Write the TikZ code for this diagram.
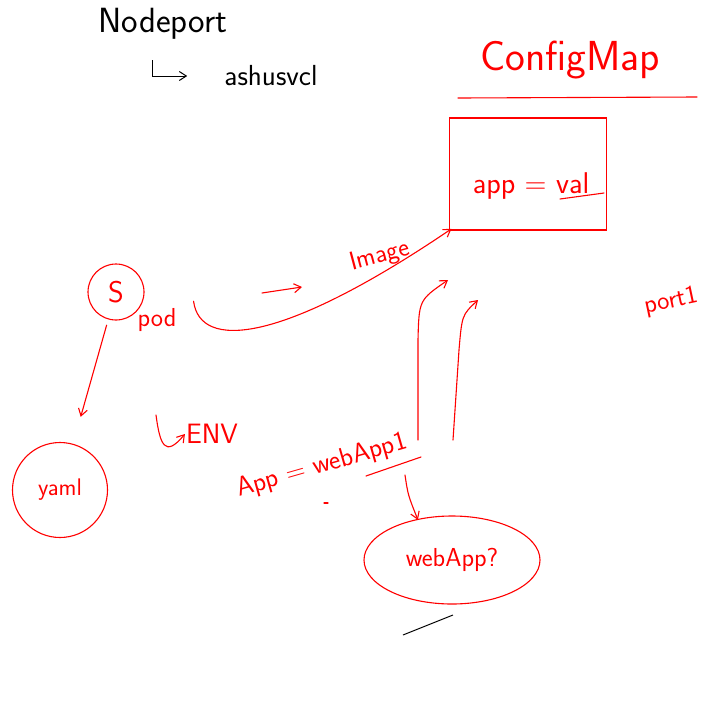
\documentclass[tikz,border=0pt]{standalone}
\usepackage{fontspec}
\usetikzlibrary{positioning,arrows.meta,shapes.geometric}
\begin{document}
\begin{tikzpicture}[x=1pt, y=-1pt,
        ink/.style = {red, line width=1.1pt, line cap=round, line join=round},
        tip/.style = {-{Straight Barb[length=7pt, width=9pt]}},
        note/.style = {red, font=\sffamily\fontsize{26}{30}\selectfont, inner sep=1pt}]
    \fill[white] (0,0) rectangle (716,705);
    \useasboundingbox (0,0) rectangle (716,705);
    % titles
    \begin{scope}[every node/.style = {note}]
        \node[black, font=\sffamily\fontsize{35}{40}\selectfont] (nodeport) at (163,24) {Nodeport};
        \node[black, font=\sffamily\fontsize{29}{34}\selectfont] (svc) at (271,76) {ashusvcl};
        \node[font=\sffamily\fontsize{42}{48}\selectfont] (cfgmap) at (570,60) {ConfigMap};
        \node (pod) at (157,320) [font=\sffamily\fontsize{26}{30}\selectfont] {pod};
        \node[rotate=15] (image) at (380,256) {Image};
        \node[font=\sffamily\fontsize{28}{32}\selectfont] (env) at (212,434) {ENV};
        \node[rotate=16, font=\sffamily\fontsize{27}{32}\selectfont] (app) at (322,466) {App = webApp1};
        \node[rotate=12] (port) at (671,302) {port1};
    \end{scope}
    % shapes
    \begin{scope}[every node/.style = {note, draw, line width=1.1pt}]
        \node[minimum width=157pt, minimum height=112pt] (cfg) at (528,174) {};
        \node[circle, minimum size=56pt, font=\sffamily\fontsize{30}{34}\selectfont] (s) at (116,292) {S};
        \node[circle, minimum size=95pt, font=\sffamily\fontsize{24}{28}\selectfont] (yaml) at (60,490) {yaml};
        \node[ellipse, minimum width=176pt, minimum height=88pt] (webapp) at (452,560) {webApp?};
    \end{scope}
    \node[note, font=\sffamily\fontsize{30}{34}\selectfont] (val) at (531,186) {app = val};
    \coordinate (up1) at (418,440);
    \coordinate (up2) at (453,440);
    % connectors
    \draw[black, line width=1pt, tip, shorten >=36pt] (152,60) |- (svc.west);
    \draw[ink] (458,98) -- (697,97);
    \draw[ink] (560,199) -- (604,193);
    \draw[ink, tip] ([xshift=16pt, yshift=6pt]pod.north east) .. controls (200,350) and (280,345) .. (cfg.south west) [shorten >=-3pt];
    \draw[ink, tip] (262,293) -- (302,287);
    \draw[ink, tip, shorten <=6pt, shorten >=28pt] (s) -- (yaml);
    \draw[ink, tip] (156,415) .. controls (160,445) and (165,458) .. (env.west);
    \draw[ink] (366,476) -- (421,457);
    \draw[ink, tip] (405,475) .. controls (408,495) .. (webapp.130) [shorten >=-1pt];
    \draw[ink, tip] (up1) -- (418,340) .. controls (419,300) .. (448,280);
    \draw[ink, tip] (up2) -- (459,350) .. controls (462,315) .. (478,300);
    \draw[ink] (324,503) -- (328,503);
    \draw[black, line width=1pt] (403,635) -- (453,615);
\end{tikzpicture}
\end{document}
